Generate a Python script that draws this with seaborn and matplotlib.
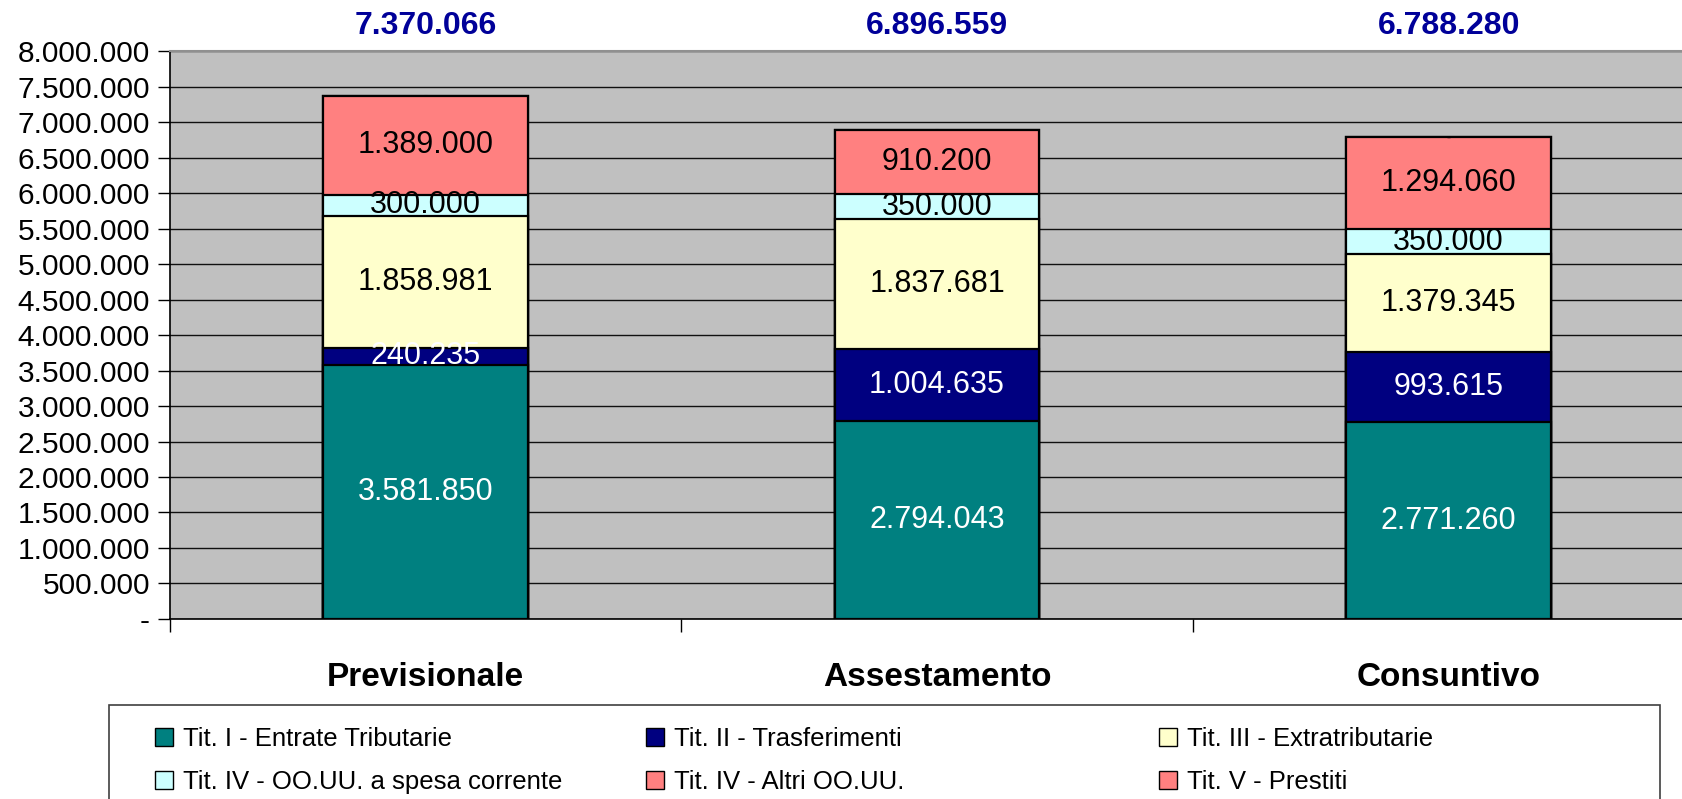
import matplotlib
matplotlib.use("Agg")
import matplotlib.pyplot as plt
import matplotlib.ticker as mticker
from matplotlib.patches import Patch, Rectangle
import seaborn as sns
import numpy as np

# data
categories = ["Previsionale", "Assestamento", "Consuntivo"]
series_names = [
    "Tit. I - Entrate Tributarie",
    "Tit. II - Trasferimenti",
    "Tit. III - Extratributarie",
    "Tit. IV - OO.UU. a spesa corrente",
    "Tit. IV - Altri OO.UU.",
    "Tit. V - Prestiti",
]
tit1 = [3581850, 2794043, 2771260]
tit2 = [240235, 1004635, 993615]
tit3 = [1858981, 1837681, 1379345]
tit4_corr = [300000, 350000, 350000]
tit4_altri = [1389000, 910200, 1294060]
tit5 = [0, 0, 0]

colors = ["#008080", "#000080", "#FFFFCC", "#CCFFFF", "#FF8080", "#FF8080"]
text_colors = ["white", "white", "black", "black", "black", "black"]

sns.set_style("white", {"text.color": "black", "xtick.color": "black",
                        "ytick.color": "black"})
plt.rcParams["font.family"] = ["Liberation Sans", "DejaVu Sans"]


def fmt(v):
    if v == 0:
        return "-"
    return f"{v:,.0f}".replace(",", ".")


series = [tit1, tit2, tit3, tit4_corr, tit4_altri, tit5]
values = np.array(series, dtype=float)
cum = np.cumsum(values, axis=0)
totals = cum[-1]

W, H = 1682, 799
fig = plt.figure(figsize=(W / 100, H / 100), dpi=100)
ax = fig.add_axes([0.1008, 0.2255, 0.9126, 0.7101])
ax.set_facecolor("#C0C0C0")

# stacked bars: draw cumulative heights from the top layer down
for i in range(len(series) - 1, -1, -1):
    sns.barplot(x=categories, y=cum[i], color=colors[i], saturation=1,
                width=0.4, edgecolor="black", linewidth=1.6,
                errorbar=None, ax=ax, zorder=3)

# segment labels
for i, vals in enumerate(series):
    for j, v in enumerate(vals):
        mid = cum[i][j] - v / 2
        if v == 0:
            ax.text(j, cum[i][j], "-", ha="center", va="center",
                    fontsize=9, fontweight="bold", color="black", zorder=5)
        else:
            ax.text(j, mid, fmt(v), ha="center", va="center",
                    fontsize=22, color=text_colors[i], zorder=5)

# totals above the plot area
for j, t in enumerate(totals):
    ax.text(j, 1.044, fmt(t), transform=ax.get_xaxis_transform(),
            ha="center", va="center", fontsize=23, fontweight="bold",
            color="#000099")

ax.set_xlim(-0.5, 2.5)
ax.set_ylim(0, 8000000)
ax.yaxis.set_major_locator(mticker.MultipleLocator(500000))
ax.yaxis.set_major_formatter(mticker.FuncFormatter(lambda v, p: fmt(v)))
ax.yaxis.grid(True, color="#101010", linewidth=1.0)
ax.set_axisbelow(True)

ax.set_xticks(range(len(categories)))
ax.set_xticklabels(categories, fontsize=24, fontweight="bold", color="black")
ax.set_xticks([-0.5, 0.5, 1.5, 2.5], minor=True)
ax.tick_params(axis="x", which="major", bottom=False, length=0, pad=31)
ax.tick_params(axis="x", which="minor", bottom=True, length=9, width=1,
               color="black", direction="out")
ax.tick_params(axis="y", left=True, length=9, width=1, color="black",
               direction="out", labelsize=21.5, labelcolor="black", pad=5)
ax.set_xlabel("")
ax.set_ylabel("")

for side in ["left", "bottom"]:
    ax.spines[side].set_color("black")
    ax.spines[side].set_linewidth(1.2)
ax.spines["top"].set_color("#909090")
ax.spines["top"].set_linewidth(1.5)
ax.spines["right"].set_visible(False)

# legend frame and three columns, filled row-wise like the original
fig.add_artist(Rectangle((109 / W, -0.01), (1660 - 109) / W, (799 - 705) / H + 0.01,
                         transform=fig.transFigure, facecolor="white",
                         edgecolor="#404040", linewidth=1.2))
handles = [Patch(facecolor=c, edgecolor="black", linewidth=1) for c in colors]
col_x = [137, 628, 1141]
for c in range(3):
    idx = [c, c + 3]
    leg = fig.legend([handles[k] for k in idx], [series_names[k] for k in idx],
                     loc="upper left", bbox_to_anchor=(col_x[c] / W, 1 - 709 / H),
                     frameon=False, fontsize=18.5, labelcolor="black",
                     handlelength=0.7, handleheight=0.7, handletextpad=0.4,
                     labelspacing=0.75, borderpad=0.2)

fig.savefig("out.png", dpi=100)
